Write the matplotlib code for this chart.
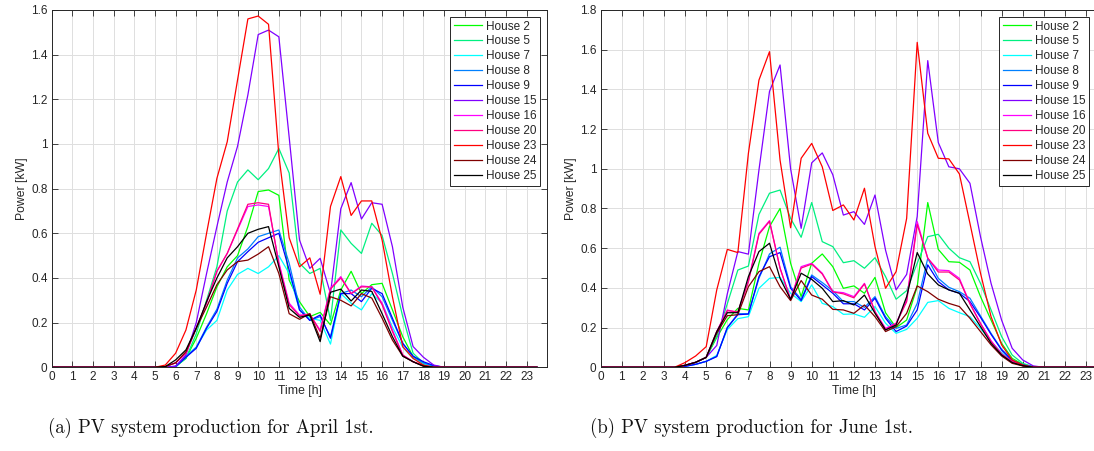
import numpy as np
import matplotlib
matplotlib.use("Agg")
import matplotlib.pyplot as plt

# ---------------- data ----------------
hours = np.arange(0, 24, 0.5)          # half-hourly time grid [h]
xticks = list(range(0, 24))

houses = ["House 2", "House 5", "House 7", "House 8", "House 9", "House 15",
          "House 16", "House 20", "House 23", "House 24", "House 25"]
colors = ["#00FF00", "#00F080", "#00FFFF", "#0080FF", "#0000FF", "#8000FF",
          "#FF00FF", "#FF0080", "#FF0000", "#800000", "#000000"]

# April 1st (values 0:00 .. 23:30, kW)
apr_h2 = [0, 0, 0, 0, 0, 0, 0, 0, 0, 0, 0,
          0, 0.003, 0.04, 0.13, 0.24, 0.36, 0.45, 0.50, 0.63, 0.787, 0.794, 0.77, 0.39, 0.294,
          0.227, 0.246, 0.19, 0.346, 0.43, 0.33, 0.37, 0.376, 0.257, 0.137, 0.048, 0.015, 0.003,
          0, 0, 0, 0, 0, 0, 0, 0, 0, 0]
apr_h5 = [0, 0, 0, 0, 0, 0, 0, 0, 0, 0, 0,
          0, 0.003, 0.04, 0.15, 0.30, 0.45, 0.70, 0.83, 0.884, 0.84, 0.89, 0.98, 0.87, 0.466,
          0.42, 0.443, 0.21, 0.615, 0.555, 0.51, 0.645, 0.59, 0.42, 0.227, 0.063, 0.02, 0.005,
          0, 0, 0, 0, 0, 0, 0, 0, 0, 0]
apr_h7 = [0, 0, 0, 0, 0, 0, 0, 0, 0, 0, 0,
          0, 0, 0.048, 0.09, 0.167, 0.21, 0.346, 0.416, 0.443, 0.42, 0.45, 0.5, 0.42, 0.257,
          0.22, 0.21, 0.104, 0.33, 0.287, 0.257, 0.33, 0.287, 0.18, 0.09, 0.04, 0.015, 0.003,
          0, 0, 0, 0, 0, 0, 0, 0, 0, 0]
apr_h8 = [0, 0, 0, 0, 0, 0, 0, 0, 0, 0, 0,
          0, 0.005, 0.048, 0.09, 0.18, 0.26, 0.39, 0.49, 0.53, 0.585, 0.6, 0.615, 0.466, 0.27,
          0.21, 0.227, 0.137, 0.33, 0.346, 0.316, 0.36, 0.316, 0.21, 0.107, 0.048, 0.02, 0.005,
          0, 0, 0, 0, 0, 0, 0, 0, 0, 0]
apr_h9 = [0, 0, 0, 0, 0, 0, 0, 0, 0, 0, 0,
          0, 0.003, 0.045, 0.085, 0.175, 0.25, 0.376, 0.473, 0.518, 0.56, 0.58, 0.6, 0.436, 0.257,
          0.21, 0.234, 0.13, 0.33, 0.33, 0.294, 0.354, 0.33, 0.22, 0.107, 0.05, 0.025, 0.008,
          0, 0, 0, 0, 0, 0, 0, 0, 0, 0]
apr_h15 = [0, 0, 0, 0, 0, 0, 0, 0, 0, 0, 0,
           0, 0.005, 0.055, 0.2, 0.42, 0.63, 0.83, 0.99, 1.22, 1.49, 1.51, 1.48, 1.03, 0.57,
           0.443, 0.488, 0.33, 0.71, 0.827, 0.664, 0.737, 0.73, 0.54, 0.27, 0.093, 0.045, 0.01,
           0, 0, 0, 0, 0, 0, 0, 0, 0, 0]
apr_h16 = [0, 0, 0, 0, 0, 0, 0, 0, 0, 0, 0,
           0.003, 0.02, 0.063, 0.175, 0.287, 0.43, 0.51, 0.615, 0.72, 0.727, 0.72, 0.47, 0.287, 0.234,
           0.234, 0.167, 0.354, 0.406, 0.33, 0.364, 0.36, 0.287, 0.167, 0.055, 0.025, 0.008, 0,
           0, 0, 0, 0, 0, 0, 0, 0, 0, 0]
apr_h20 = [0, 0, 0, 0, 0, 0, 0, 0, 0, 0, 0,
           0.003, 0.02, 0.063, 0.175, 0.29, 0.43, 0.51, 0.62, 0.73, 0.737, 0.73, 0.46, 0.28, 0.23,
           0.24, 0.16, 0.35, 0.40, 0.33, 0.36, 0.36, 0.28, 0.16, 0.055, 0.025, 0.008, 0,
           0, 0, 0, 0, 0, 0, 0, 0, 0, 0]
apr_h23 = [0, 0, 0, 0, 0, 0, 0, 0, 0, 0, 0,
           0.01, 0.063, 0.167, 0.346, 0.6, 0.846, 1.01, 1.287, 1.56, 1.573, 1.536, 0.95, 0.58, 0.45,
           0.49, 0.327, 0.72, 0.854, 0.68, 0.745, 0.745, 0.57, 0.316, 0.093, 0.04, 0.01, 0,
           0, 0, 0, 0, 0, 0, 0, 0, 0, 0]
apr_h24 = [0, 0, 0, 0, 0, 0, 0, 0, 0, 0, 0,
           0.003, 0.02, 0.07, 0.175, 0.27, 0.37, 0.436, 0.473, 0.48, 0.507, 0.54, 0.42, 0.24, 0.215,
           0.24, 0.13, 0.316, 0.30, 0.275, 0.33, 0.31, 0.22, 0.122, 0.05, 0.025, 0.005, 0,
           0, 0, 0, 0, 0, 0, 0, 0, 0, 0]
apr_h25 = [0, 0, 0, 0, 0, 0, 0, 0, 0, 0, 0,
           0.003, 0.033, 0.078, 0.175, 0.294, 0.4, 0.49, 0.54, 0.6, 0.618, 0.63, 0.45, 0.264, 0.224,
           0.234, 0.115, 0.336, 0.35, 0.297, 0.346, 0.34, 0.24, 0.137, 0.05, 0.025, 0.005, 0,
           0, 0, 0, 0, 0, 0, 0, 0, 0, 0]

# June 1st (values 0:00 .. 23:30, kW)
jun_h2 = [0, 0, 0, 0, 0, 0, 0,
          0, 0.01, 0.025, 0.05, 0.15, 0.24, 0.297, 0.289, 0.524, 0.709, 0.8, 0.524, 0.356, 0.524,
          0.571, 0.507, 0.398, 0.41, 0.373, 0.453, 0.275, 0.20, 0.238, 0.406, 0.83, 0.594, 0.532,
          0.529, 0.49, 0.356, 0.238, 0.121, 0.045, 0.015, 0.003,
          0, 0, 0, 0, 0, 0]
jun_h5 = [0, 0, 0, 0, 0, 0, 0,
          0, 0.01, 0.025, 0.05, 0.155, 0.32, 0.49, 0.51, 0.77, 0.877, 0.893, 0.75, 0.655, 0.83,
          0.633, 0.608, 0.527, 0.537, 0.499, 0.552, 0.457, 0.343, 0.386, 0.524, 0.658, 0.67, 0.6,
          0.552, 0.532, 0.423, 0.289, 0.155, 0.062, 0.02, 0.003,
          0, 0, 0, 0, 0, 0]
jun_h7 = [0, 0, 0, 0, 0, 0, 0,
          0, 0.005, 0.015, 0.03, 0.06, 0.19, 0.245, 0.255, 0.398, 0.448, 0.453, 0.373, 0.331, 0.415,
          0.322, 0.306, 0.267, 0.269, 0.252, 0.306, 0.222, 0.171, 0.191, 0.247, 0.327, 0.336, 0.297,
          0.275, 0.255, 0.196, 0.129, 0.074, 0.032, 0.012, 0.002,
          0, 0, 0, 0, 0, 0]
jun_h8 = [0, 0, 0, 0, 0, 0, 0,
          0, 0.005, 0.015, 0.03, 0.055, 0.2, 0.27, 0.27, 0.448, 0.571, 0.605, 0.406, 0.343, 0.465,
          0.427, 0.386, 0.331, 0.331, 0.302, 0.356, 0.255, 0.196, 0.213, 0.322, 0.549, 0.448, 0.403,
          0.381, 0.348, 0.259, 0.171, 0.091, 0.037, 0.012, 0.002,
          0, 0, 0, 0, 0, 0]
jun_h9 = [0, 0, 0, 0, 0, 0, 0,
          0, 0.005, 0.015, 0.03, 0.054, 0.2, 0.265, 0.268, 0.457, 0.557, 0.578, 0.398, 0.336, 0.457,
          0.415, 0.373, 0.32, 0.32, 0.289, 0.348, 0.247, 0.18, 0.208, 0.289, 0.516, 0.432, 0.39,
          0.373, 0.331, 0.252, 0.166, 0.087, 0.034, 0.012, 0.002,
          0, 0, 0, 0, 0, 0]
jun_h15 = [0, 0, 0, 0, 0, 0, 0,
           0, 0.01, 0.025, 0.05, 0.11, 0.37, 0.583, 0.57, 0.994, 1.39, 1.523, 1.0, 0.70, 1.03,
           1.08, 0.97, 0.767, 0.784, 0.72, 0.868, 0.59, 0.39, 0.468, 0.76, 1.545, 1.132, 1.01,
           1.0, 0.927, 0.658, 0.423, 0.238, 0.096, 0.037, 0.007,
           0, 0, 0, 0, 0, 0]
jun_h16 = [0, 0, 0, 0, 0, 0, 0,
           0, 0.01, 0.025, 0.05, 0.18, 0.289, 0.275, 0.437, 0.675, 0.739, 0.499, 0.343, 0.507, 0.524,
           0.474, 0.381, 0.376, 0.356, 0.423, 0.28, 0.196, 0.222, 0.339, 0.734, 0.549, 0.49, 0.487,
           0.448, 0.322, 0.222, 0.134, 0.067, 0.029, 0.008, 0,
           0, 0, 0, 0, 0, 0]
jun_h20 = [0, 0, 0, 0, 0, 0, 0,
           0, 0.01, 0.025, 0.05, 0.18, 0.285, 0.28, 0.43, 0.67, 0.735, 0.50, 0.34, 0.50, 0.52,
           0.47, 0.38, 0.37, 0.35, 0.42, 0.28, 0.19, 0.22, 0.33, 0.72, 0.55, 0.48, 0.48,
           0.44, 0.32, 0.22, 0.13, 0.067, 0.029, 0.008, 0,
           0, 0, 0, 0, 0, 0]
jun_h23 = [0, 0, 0, 0, 0, 0, 0,
           0, 0.024, 0.057, 0.104, 0.39, 0.594, 0.578, 1.078, 1.447, 1.59, 1.044, 0.703, 1.053, 1.128,
           1.01, 0.79, 0.818, 0.742, 0.902, 0.608, 0.398, 0.482, 0.75, 1.637, 1.179, 1.053, 1.05,
           0.974, 0.725, 0.474, 0.255, 0.113, 0.037, 0.012, 0,
           0, 0, 0, 0, 0, 0]
jun_h24 = [0, 0, 0, 0, 0, 0, 0,
           0, 0.01, 0.025, 0.05, 0.171, 0.26, 0.265, 0.406, 0.482, 0.507, 0.406, 0.336, 0.437, 0.364,
           0.343, 0.292, 0.289, 0.272, 0.314, 0.255, 0.18, 0.205, 0.272, 0.41, 0.381, 0.343, 0.322,
           0.306, 0.247, 0.18, 0.113, 0.057, 0.02, 0.007, 0,
           0, 0, 0, 0, 0, 0]
jun_h25 = [0, 0, 0, 0, 0, 0, 0,
           0, 0.01, 0.025, 0.05, 0.18, 0.275, 0.275, 0.457, 0.583, 0.625, 0.448, 0.343, 0.474, 0.443,
           0.398, 0.331, 0.336, 0.314, 0.364, 0.272, 0.188, 0.213, 0.356, 0.578, 0.47, 0.415, 0.39,
           0.373, 0.289, 0.205, 0.121, 0.062, 0.024, 0.008, 0,
           0, 0, 0, 0, 0, 0]

april = [apr_h2, apr_h5, apr_h7, apr_h8, apr_h9, apr_h15, apr_h16, apr_h20, apr_h23, apr_h24, apr_h25]
june = [jun_h2, jun_h5, jun_h7, jun_h8, jun_h9, jun_h15, jun_h16, jun_h20, jun_h23, jun_h24, jun_h25]

captions = ["(a) PV system production for April 1st.", "(b) PV system production for June 1st."]

# ---------------- figure ----------------
W, H = 1094, 451
fig = plt.figure(figsize=(W / 100, H / 100), dpi=100)
plt.rcParams['font.family'] = ['Liberation Sans', 'DejaVu Sans']

txt_col = "#262626"

def px_axes(x0, x1, y0, y1):
    return fig.add_axes([x0 / W, 1 - y1 / H, (x1 - x0) / W, (y1 - y0) / H])

ax1 = px_axes(51.7, 547.3, 10, 367.3)
ax2 = px_axes(600.7, 1107.1, 10, 367.3)

for ax, data, ymax, legx in [(ax1, april, 1.6, 540), (ax2, june, 1.8, 1089)]:
    for vals, lab, col in zip(data, houses, colors):
        assert len(vals) == 48
        ax.plot(hours, vals, color=col, lw=0.9, label=lab)
    ax.set_xlim(0, 24)
    ax.set_ylim(0, ymax)
    ax.set_xticks(xticks)
    ax.set_xticklabels([str(t) for t in xticks])
    yt = np.round(np.arange(0, ymax + 0.001, 0.2), 1)
    ax.set_yticks(yt)
    ax.set_yticklabels(["0" if v == 0 else ("1" if v == 1 else f"{v:g}") for v in yt])
    ax.grid(True, color="#dfdfdf", lw=0.7)
    ax.set_axisbelow(True)
    ax.tick_params(direction="in", length=4, width=0.6, top=True, right=True,
                   labelsize=8.5, colors=txt_col, pad=3)
    for s in ax.spines.values():
        s.set_color(txt_col)
        s.set_linewidth(0.7)
    ax.set_xlabel("Time [h]", fontsize=8.8, color=txt_col, labelpad=1)
    ax.set_ylabel("Power [kW]", fontsize=8.8, color=txt_col, labelpad=2)
    leg = ax.legend(loc="upper right", bbox_to_anchor=(legx / W, 1 - 17 / H),
                    bbox_transform=fig.transFigure, borderaxespad=0,
                    fontsize=8.5, handlelength=2.4, handletextpad=0.3,
                    labelspacing=0.25, borderpad=0.3, fancybox=False,
                    framealpha=1, edgecolor=txt_col)
    leg.get_frame().set_linewidth(0.7)
    for t in leg.get_texts():
        t.set_color(txt_col)

fig.text(211 / W, 1 - 428 / H, captions[0], ha="center", va="center",
         fontsize=13.5, family="cmr10", color="#111111")
fig.text(751 / W, 1 - 428 / H, captions[1], ha="center", va="center",
         fontsize=13.5, family="cmr10", color="#111111")

fig.savefig("out.png", dpi=100)
